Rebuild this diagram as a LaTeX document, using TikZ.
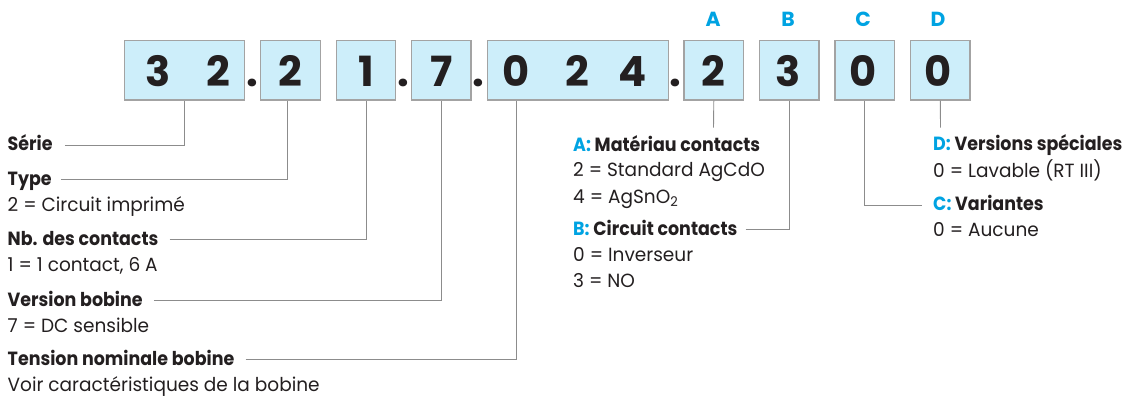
\documentclass[tikz,border=0pt]{standalone}
\usepackage{fontspec}
\usepackage{graphicx}
\setmainfont{Poppins}
\newlength\mylen
\definecolor{ink}{HTML}{231F20}
\definecolor{codeblue}{HTML}{00A3E2}
\definecolor{boxfill}{HTML}{CDEEFA}
\definecolor{boxline}{HTML}{A3A3A3}
\definecolor{leadline}{HTML}{8C8C8C}
\newcommand\bodyt[1]{\scalebox{\bsx}[\bsy]{\fontsize{10pt}{12pt}\selectfont #1}}
\newcommand\headt[1]{\scalebox{\hsx}[\hsy]{\fontsize{10pt}{12pt}\selectfont\bfseries #1}}
\begin{document}
\settowidth\mylen{\fontsize{10pt}{12pt}\selectfont Voir caractéristiques de la bobine}%
\pgfmathsetmacro\bsx{312/\mylen}%
\settoheight\mylen{\fontsize{10pt}{12pt}\selectfont V}%
\pgfmathsetmacro\bsy{13.3/\mylen}%
\settowidth\mylen{\fontsize{10pt}{12pt}\selectfont\bfseries A: Matériau contacts}%
\pgfmathsetmacro\hsx{187/\mylen}%
\settoheight\mylen{\fontsize{10pt}{12pt}\selectfont\bfseries T}%
\pgfmathsetmacro\hsy{13.4/\mylen}%
\settoheight\mylen{\fontsize{10pt}{12pt}\selectfont\bfseries 0}%
\pgfmathsetmacro\dsz{10*31/\mylen}%
\settoheight\mylen{\fontsize{10pt}{12pt}\selectfont\bfseries A}%
\pgfmathsetmacro\lsz{10*14.3/\mylen}%
\begin{tikzpicture}[x=1pt,y=-1pt,
  codebox/.style={draw=boxline, line width=1.2pt, fill=boxfill, inner sep=0pt, minimum height=59.3pt},
  digit/.style={font=\fontsize{\dsz pt}{\dsz pt}\selectfont\bfseries, text=ink, anchor=base, inner sep=0pt},
  letter/.style={font=\fontsize{\lsz pt}{\lsz pt}\selectfont\bfseries, text=codeblue, anchor=base, inner sep=0pt},
  head/.style={text=ink, anchor=base west, inner sep=0pt},
  body/.style={text=ink, anchor=base west, inner sep=0pt},
  lead/.style={draw=leadline, line width=0.9pt}]
\useasboundingbox (0,0) rectangle (1126,399);
% boxes
\node[codebox, minimum width=120pt] (box1) at (184.3,70.3) {};
\node[codebox, minimum width=59.6pt] (box2) at (290.5,70.3) {};
\node[codebox, minimum width=59.4pt] (box3) at (366,70.3) {};
\node[codebox, minimum width=59.4pt] (box4) at (441.3,70.3) {};
\node[codebox, minimum width=181pt] (box5) at (577.8,70.3) {};
\node[codebox, minimum width=59.6pt] (box6) at (713.8,70.3) {};
\node[codebox, minimum width=59.6pt] (box7) at (789.2,70.3) {};
\node[codebox, minimum width=59.6pt] (box8) at (864.8,70.3) {};
\node[codebox, minimum width=59.4pt] (box9) at (940.3,70.3) {};
% digits
\node[digit] (d1a) at (158,86) {3};
\node[digit] (d1b) at (218,86) {2};
\node[digit] (d2) at (290.7,86) {2};
\node[digit] (d3) at (366.5,86) {1};
\node[digit] (d4) at (441.7,86) {7};
\node[digit] (d5a) at (515.8,86) {0};
\node[digit] (d5b) at (577,86) {2};
\node[digit] (d5c) at (632.7,86) {4};
\node[digit] (d6) at (713,86) {2};
\node[digit] (d7) at (788.5,86) {3};
\node[digit] (d8) at (863.5,86) {0};
\node[digit] (d9) at (938.5,86) {0};
% separators
\node[digit] (p1) at (252.3,86) {.};
\node[digit] (p2) at (403.3,86) {.};
\node[digit] (p3) at (478.6,86) {.};
\node[digit] (p4) at (675.8,86) {.};
% letters
\node[letter] (la) at (713,26) {A};
\node[letter] (lb) at (788,26) {B};
\node[letter] (lc) at (863,26) {C};
\node[letter] (ld) at (938,26) {D};
% left legend
\node[head] (serie) at (7.5,150.7) {\headt{Série}};
\node[head] (type) at (7.5,185) {\headt{Type}};
\node[body] (typev) at (7.5,211.7) {\bodyt{2 = Circuit imprimé}};
\node[head] (nb) at (7.5,245) {\headt{Nb. des contacts}};
\node[body] (nbv) at (7.5,271.2) {\bodyt{1 = 1 contact, 6 A}};
\node[head] (vers) at (7.5,306) {\headt{Version bobine}};
\node[body] (versv) at (7.5,332.4) {\bodyt{7 = DC sensible}};
\node[head] (tens) at (7.5,365) {\headt{Tension nominale bobine}};
\node[body] (tensv) at (7.5,391.2) {\bodyt{Voir caractéristiques de la bobine}};
% right legend
\node[head] (mat) at (573,151) {\headt{\textcolor{codeblue}{A:} Matériau contacts}};
\node[body] (matv1) at (573,176.8) {\bodyt{2 = Standard AgCdO}};
\node[body] (matv2) at (573,203) {\bodyt{4 = AgSnO\textsubscript{2}}};
\node[head] (circ) at (573,235) {\headt{\textcolor{codeblue}{B:} Circuit contacts}};
\node[body] (circv1) at (573,261.5) {\bodyt{0 = Inverseur}};
\node[body] (circv2) at (573,287) {\bodyt{3 = NO}};
\node[head] (spec) at (933,150.7) {\headt{\textcolor{codeblue}{D:} Versions spéciales}};
\node[body] (specv) at (933,177) {\bodyt{0 = Lavable (RT III)}};
\node[head] (var) at (933,210.8) {\headt{\textcolor{codeblue}{C:} Variantes}};
\node[body] (varv) at (933,236.8) {\bodyt{0 = Aucune}};
% leaders
\coordinate (aend) at (713.5,127.5);
\coordinate (dend) at (940.5,127.5);
\draw[lead] ([xshift=12pt,yshift=5.5pt]serie.base east) -| (box1.south);
\draw[lead] ([xshift=9pt,yshift=5.5pt]type.base east) -| ([xshift=-3pt]box2.south);
\draw[lead] ([xshift=11pt,yshift=5.5pt]nb.base east) -| (box3.south);
\draw[lead] ([xshift=11pt,yshift=5.5pt]vers.base east) -| (box4.south);
\draw[lead] ([xshift=11pt,yshift=5.5pt]tens.base east) -| ([xshift=29.5pt]box5.south west);
\draw[lead] (box6.south) -- (aend);
\draw[lead] ([xshift=8pt,yshift=5.5pt]circ.base east) -| (box7.south);
\draw[lead] (box8.south) |- ([xshift=-11pt,yshift=5.5pt]var.base west);
\draw[lead] (box9.south) -- (dend);
\end{tikzpicture}
\end{document}
